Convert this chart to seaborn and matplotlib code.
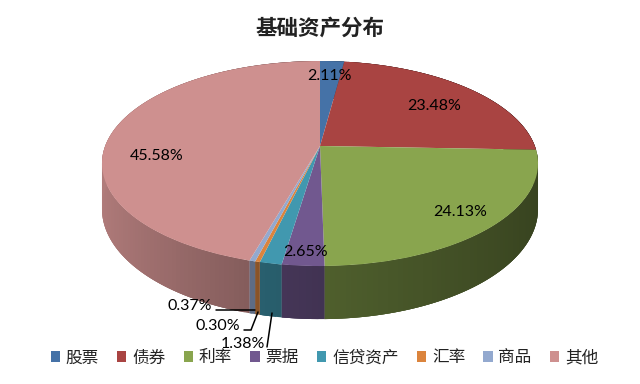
import numpy as np
import matplotlib
matplotlib.use("Agg")
import matplotlib.pyplot as plt
import matplotlib.transforms as mtransforms
from matplotlib.collections import PolyCollection
from matplotlib.patches import Patch
import seaborn as sns

categories = ["股票", "债券", "利率", "票据", "信贷资产", "汇率", "商品", "其他"]
shares = [2.11, 23.48, 24.13, 2.65, 1.38, 0.30, 0.37, 45.58]
colors = ["#4572A7", "#A94442", "#89A54E", "#71588F", "#4198AF", "#DB843D", "#93A9CF", "#CE908F"]
title = "基础资产分布"

sns.set_theme(style="white")
plt.rcParams["font.family"] = ["Noto Sans CJK SC", "DejaVu Sans"]
palette = sns.color_palette(colors)

# layout (pixels)
CX, CY, RX, RY, K, DEPTH = 320, 146, 214.8, 99.5, 0.171, 44
label_pos = [(329, 76), (434, 105.5), (460, 212), (306, 252), (243, 344), (218, 326.5), (190, 305.5), (157, 156)]
leaders = [
    ([267, 272], [347, 313]),
    ([244, 251, 258], [330, 330, 312]),
    ([216, 255], [310, 310]),
]


class Perspective(mtransforms.Transform):
    input_dims = output_dims = 2
    is_separable = False
    has_inverse = False

    def transform_non_affine(self, values):
        v = np.asarray(values, float)
        w = 1 + K * v[:, 1]
        return np.column_stack([CX + RX * v[:, 0] / w, CY - RY * v[:, 1] / w])


def shade(x):
    return np.interp(x, [-1, -0.2, 0.1, 1], [0.86, 0.62, 0.56, 0.40])


persp = Perspective()
fig = plt.figure(figsize=(6.4, 3.84), dpi=100, facecolor="white")
ax = fig.add_axes([0, 0, 1, 1])

# side wall, built from the shares; each strip overlaps the next to hide seams
polys, faces = [], []
edges = np.concatenate([[0], np.cumsum(shares)]) / np.sum(shares)
for i, col in enumerate(palette):
    n = max(2, int((edges[i + 1] - edges[i]) * 300))
    t = np.pi / 2 - 2 * np.pi * np.linspace(edges[i], edges[i + 1], n + 1)
    ux, uy = np.cos(t), np.sin(t)
    top = persp.transform_non_affine(np.column_stack([ux, uy]))
    bot = top + np.column_stack([np.zeros(n + 1), DEPTH / (1 + K * uy)])
    for j in range(n):
        e = min(j + 3, n)
        polys.append(np.vstack([top[j:e + 1], bot[j:e + 1][::-1]]))
        m = shade((ux[j] + ux[j + 1]) / 2)
        faces.append(tuple(c * m for c in col))
ax.add_collection(PolyCollection(polys, facecolors=faces, edgecolors="none", linewidths=0, zorder=1))

# top face
wedges, _ = ax.pie(shares, colors=palette, startangle=90, counterclock=False, radius=1,
                   wedgeprops=dict(linewidth=0, zorder=2))
for w in wedges:
    w.set_transform(persp + ax.transData)

ax.set_aspect("auto")
ax.set_xlim(0, 640)
ax.set_ylim(384, 0)
ax.axis("off")

for v, (x, y) in zip(shares, label_pos):
    ax.text(x, y, f"{v:.2f}%", ha="center", va="center", fontsize=11.5,
            family=["Lato", "DejaVu Sans"], color="black", zorder=5)
for xs, ys in leaders:
    ax.plot(xs, ys, color="black", lw=1.1, zorder=4, solid_joinstyle="miter")

ax.text(320, 28, title, ha="center", va="center", fontsize=15.5, fontweight="bold", color="#222222")

handles = [Patch(facecolor=c, edgecolor="none", label=l) for c, l in zip(palette, categories)]
ax.legend(handles=handles)
sns.move_legend(ax, "center", bbox_to_anchor=(0.507, 0.068), ncol=8, frameon=False, fontsize=12,
                handlelength=0.55, handleheight=0.55, handletextpad=0.35, columnspacing=1.1,
                labelcolor="#222222", title=None)

fig.savefig("out.png", dpi=100, facecolor="white")
